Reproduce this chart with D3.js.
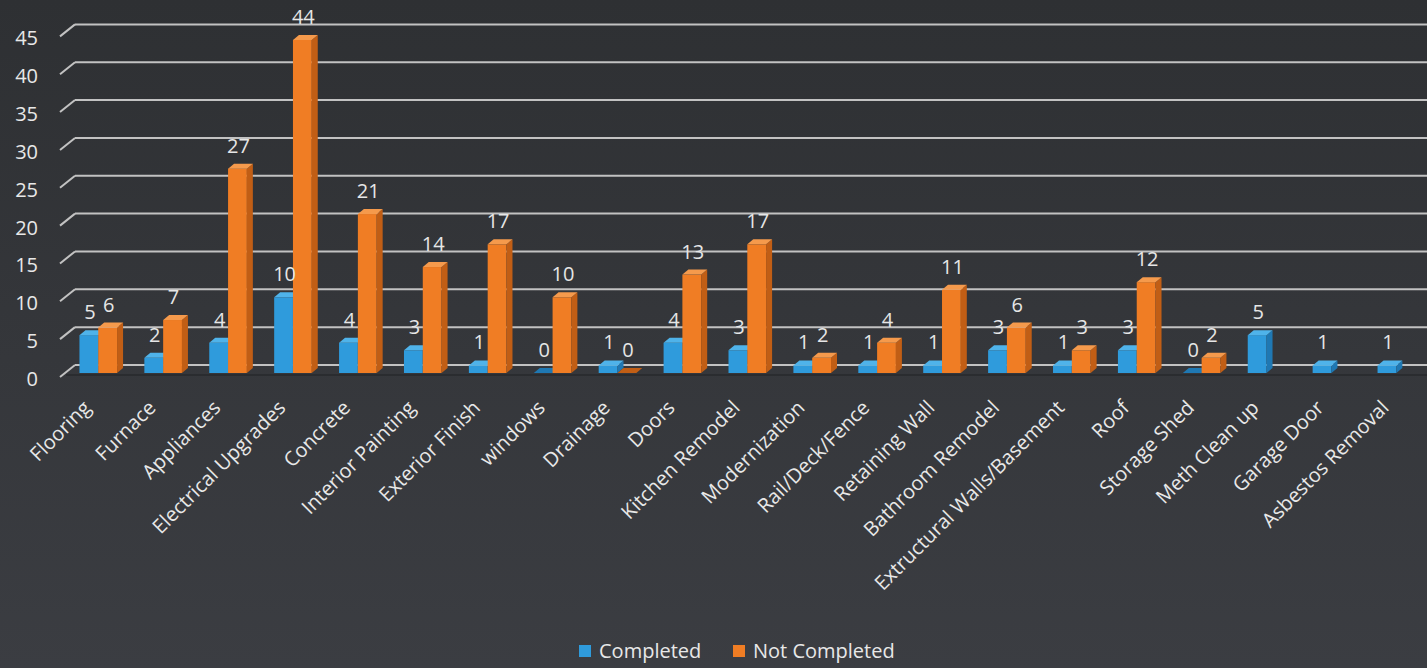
<!DOCTYPE html>
<html><head><meta charset="utf-8">
<script src="https://cdn.jsdelivr.net/npm/d3@7/dist/d3.min.js"></script>
<style>
html,body{margin:0;padding:0;background:#36383c;}
svg{display:block;}
</style></head><body>
<svg id="chart" width="1427" height="668"></svg>
<script>
const categories = ["Flooring","Furnace","Appliances","Electrical Upgrades","Concrete","Interior Painting","Exterior Finish","windows","Drainage","Doors","Kitchen Remodel","Modernization","Rail/Deck/Fence","Retaining Wall","Bathroom Remodel","Extructural Walls/Basement","Roof","Storage Shed","Meth Clean up","Garage Door","Asbestos Removal"];
const completed    = [5,2,4,10,4,3,1,0,1,4,3,1,1,1,3,1,3,0,5,1,1];
const notCompleted = [6,7,27,44,21,14,17,10,0,13,17,2,4,11,6,3,12,2,null,null,null];
const yTicks = [0,5,10,15,20,25,30,35,40,45];
const seriesNames = ["Completed","Not Completed"];

const W = 1427, H = 668;
const svg = d3.select("#chart");

// background
const defs = svg.append("defs");
const bg = defs.append("linearGradient").attr("id","bg").attr("x1",0).attr("y1",0).attr("x2",0).attr("y2",1);
bg.append("stop").attr("offset","0%").attr("stop-color","#2e3033");
bg.append("stop").attr("offset","100%").attr("stop-color","#3b3d42");
svg.append("rect").attr("width",W).attr("height",H).attr("fill","url(#bg)");

const x = d3.scaleBand().domain(categories).range([66.5, 1429.5]).paddingInner(0).paddingOuter(0);
const y = d3.scaleLinear().domain([0,45]).range([373, 32.4]);
const barW = 18.8;
const dX = 6, dY = -5;

// gridlines (back wall) + diagonal stubs
const grid = svg.append("g");
yTicks.forEach(v => {
  const yb = y(v) - 8;
  grid.append("line").attr("x1",75).attr("x2",W).attr("y1",yb).attr("y2",yb)
    .attr("stroke","#c2c2c2").attr("stroke-width",2);
  grid.append("line").attr("x1",60).attr("x2",75).attr("y1",y(v)+4).attr("y2",yb)
    .attr("stroke","#c2c2c2").attr("stroke-width",2);
});

// y axis labels
svg.append("g").selectAll("text").data(yTicks).join("text")
  .attr("x",38).attr("y",d => y(d)+6).attr("dy","0.35em")
  .attr("text-anchor","end").attr("fill","#e8e8e8")
  .attr("font-family","Open Sans, sans-serif").attr("font-size",20)
  .text(d => d);

// floor shadow
svg.append("line").attr("x1",66).attr("x2",W).attr("y1",y(0)+2).attr("y2",y(0)+2)
  .attr("stroke","#26282b").attr("stroke-width",2).attr("opacity",0.7);

function drawBar(g, x0, v, cols){
  const yt = y(v), yb = y(0);
  const h = yb - yt;
  if (h > 0.5) {
    g.append("rect").attr("x",x0).attr("y",yt).attr("width",barW).attr("height",h).attr("fill",cols.front);
    g.append("path").attr("d",`M${x0+barW},${yt} L${x0+barW+dX},${yt+dY} L${x0+barW+dX},${yb+dY} L${x0+barW},${yb} Z`).attr("fill",cols.side);
  }
  g.append("path").attr("d",`M${x0},${yt} L${x0+dX},${yt+dY} L${x0+barW+dX},${yt+dY} L${x0+barW},${yt} Z`)
    .attr("fill", h > 0.5 ? cols.top : cols.side);
}

const blueCols = {front:"#2f9bdc", side:"#1f78b3", top:"#4fb3ea"};
const orangeCols = {front:"#f07d24", side:"#c15e15", top:"#f59a4c"};

const bars = svg.append("g");
categories.forEach((c,i) => {
  const cx = x(c) + x.bandwidth()/2;
  const v1 = completed[i], v2 = notCompleted[i];
  if (v1 !== null) drawBar(bars, cx - 19.5, v1, blueCols);
  if (v2 !== null) drawBar(bars, cx - 0.7, v2, orangeCols);
});

// value labels
const lab = svg.append("g").attr("font-family","Open Sans, sans-serif").attr("font-size",20).attr("fill","#e6e6e6").attr("text-anchor","middle");
categories.forEach((c,i) => {
  const cx = x(c) + x.bandwidth()/2;
  const v1 = completed[i], v2 = notCompleted[i];
  if (v1 !== null) lab.append("text").attr("x",cx - 19.5 + barW/2 + 1).attr("y",y(v1)-16).text(v1);
  if (v2 !== null) lab.append("text").attr("x",cx - 0.7 + barW/2 + 1).attr("y",y(v2)-16).text(v2);
});

// x labels
svg.append("g").selectAll("text").data(categories).join("text")
  .attr("transform",d => `translate(${x(d)+x.bandwidth()/2-7},409) rotate(-45)`)
  .attr("text-anchor","end").attr("fill","#e8e8e8")
  .attr("font-family","Open Sans, sans-serif").attr("font-size",20)
  .text(d => d);

// legend
const leg = svg.append("g").attr("font-family","Open Sans, sans-serif").attr("font-size",20).attr("fill","#e8e8e8");
const legItems = [{name:seriesNames[0], col:"#2f9bdc", x:579},{name:seriesNames[1], col:"#f07d24", x:733}];
legItems.forEach(d => {
  leg.append("rect").attr("x",d.x).attr("y",645).attr("width",12).attr("height",12).attr("fill",d.col);
  leg.append("text").attr("x",d.x+20).attr("y",651).attr("dy","0.35em").text(d.name);
});
</script>
</body></html>
